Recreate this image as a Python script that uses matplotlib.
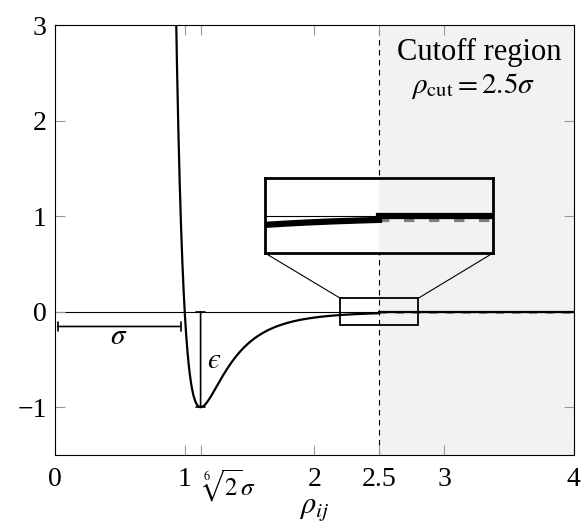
import numpy as np
import matplotlib
matplotlib.use("Agg")
import matplotlib.pyplot as plt
from matplotlib.patches import Rectangle, ConnectionPatch

plt.rcParams['font.family'] = ['Liberation Serif', 'DejaVu Serif']
plt.rcParams['mathtext.fontset'] = 'stix'

# Lennard-Jones parameters (reduced units)
sigma = 1.0
epsilon = 1.0
r_cut = 2.5
r_min = 2 ** (1 / 6) * sigma

xticks = [0, 1, r_min, 2, 2.5, 3, 4]
xticklabels = ['0', '1', r'$\sqrt[6]{2}\sigma$', '2', '2.5', '3', '4']
yticks = [-1, 0, 1, 2, 3]

# zoom window and its inset
zoom_x = [2.2, 2.8]
zoom_y = [-0.14, 0.14]


def lj(r):
    return 4 * epsilon * ((sigma / r) ** 12 - (sigma / r) ** 6)


r_in = np.linspace(0.88, r_cut, 3000)
r_out = np.linspace(r_cut, 4, 500)
v_in = lj(r_in)
v_out = np.zeros_like(r_out)
v_gray = np.full_like(r_out, lj(r_cut))

fig = plt.figure(figsize=(5.82, 5.29), dpi=100)
ax = fig.add_axes([0.0945, 0.1399, 0.8915, 0.8128])

ax.axvspan(r_cut, 4, color='#f2f2f2', zorder=0, lw=0)
ax.axvline(r_cut, color='black', lw=0.8, ls=(0, (5, 4)), zorder=1)
ax.axhline(0, color='black', lw=0.8, zorder=1)

ax.plot(r_out, v_gray, color='gray', lw=1.2, ls=(0, (5, 5)), zorder=2)
ax.plot(r_in, v_in, color='black', lw=1.6, zorder=3)
ax.plot(r_out, v_out, color='black', lw=1.6, zorder=3)

# sigma and epsilon markers
ax.annotate('', xy=(0.02, -0.155), xytext=(0.97, -0.155),
            arrowprops=dict(arrowstyle='|-|, widthA=0.35, widthB=0.35', lw=1.2, color='black',
                            shrinkA=0, shrinkB=0))
ax.text(0.49, -0.27, r'$\sigma$', fontsize=21, ha='center', va='center')
ax.annotate('', xy=(r_min, 0), xytext=(r_min, -1),
            arrowprops=dict(arrowstyle='|-|, widthA=0.35, widthB=0.35', lw=1.2, color='black',
                            shrinkA=0, shrinkB=0))
ax.text(1.22, -0.51, '\u03f5', fontsize=21, ha='center', va='center',
        family='STIXGeneral', style='italic')

ax.text(3.27, 2.71, 'Cutoff region', fontsize=22, ha='center', va='center')
ax.text(3.22, 2.36, r'$\rho_{\mathrm{cut}} = 2.5\sigma$', fontsize=21, ha='center', va='center')

ax.set_xlim(0, 4)
ax.set_ylim(-1.5, 3)
ax.set_xticks(xticks)
ax.set_xticklabels(xticklabels)
ax.set_yticks(yticks)
ax.tick_params(direction='in', length=7, width=0.8, color='#999999', labelsize=20,
               top=True, right=True, pad=6)
ax.tick_params(axis='x', pad=9)
root_label = ax.get_xticklabels()[2]
root_label.set_horizontalalignment('left')
root_label.set_fontsize(18)
ax.set_xlabel(r'$\rho_{ij}$', fontsize=22, va='center')
ax.xaxis.set_label_coords(0.5, -0.125)
for s in ax.spines.values():
    s.set_linewidth(0.8)

# zoom rectangle on main axes
ax.add_patch(Rectangle((zoom_x[0], zoom_y[0]), zoom_x[1] - zoom_x[0], zoom_y[1] - zoom_y[0],
                       fill=False, edgecolor='black', lw=1.3, zorder=4))

# inset
axins = fig.add_axes([0.4553, 0.5217, 0.3918, 0.1418])
axins.axvspan(r_cut, 4, color='#f2f2f2', zorder=0, lw=0)
axins.axhline(0, color='black', lw=0.8, zorder=1)
axins.plot(r_out, v_gray, color='gray', lw=3.0, ls=(0, (2.5, 3.5)), zorder=2)
axins.plot(r_in, v_in, color='black', lw=4.5, zorder=3)
axins.plot(r_out, v_out, color='black', lw=4.5, zorder=3)
axins.set_xlim(*zoom_x)
axins.set_ylim(*zoom_y)
axins.set_xticks([])
axins.set_yticks([])
for s in axins.spines.values():
    s.set_linewidth(2)

for xa, xb in [(0, zoom_x[0]), (1, zoom_x[1])]:
    con = ConnectionPatch(xyA=(xa, 0), coordsA=axins.transAxes,
                          xyB=(xb, zoom_y[1]), coordsB=ax.transData,
                          color='black', lw=0.8)
    fig.add_artist(con)

fig.savefig('out.png', dpi=100)
